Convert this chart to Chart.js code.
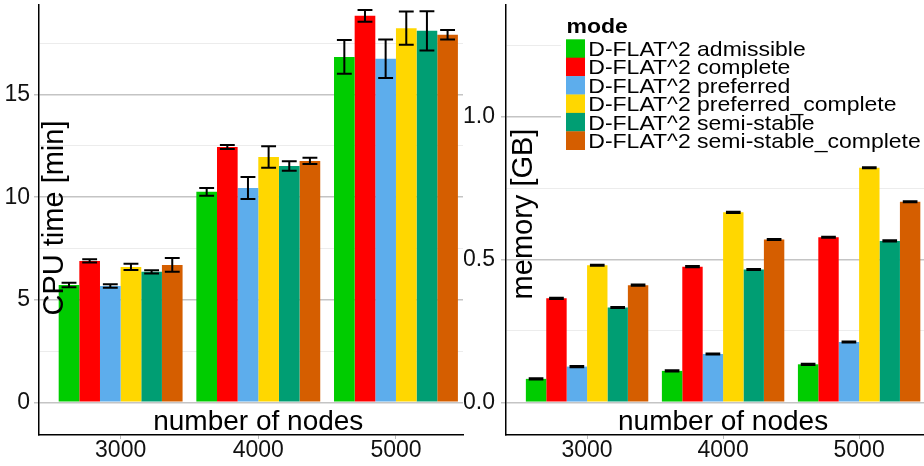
<!DOCTYPE html>
<html>
<head>
<meta charset="utf-8">
<script src="https://cdn.jsdelivr.net/npm/chart.js@4"></script>
<style>
  html, body { margin: 0; padding: 0; background: #fff; }
  #wrap { position: relative; width: 924px; height: 466px; overflow: hidden; }
  #cpuChart { position: absolute; left: 0; top: 0; }
  #memChart { position: absolute; left: 464px; top: 0; }
</style>
</head>
<body>
<div id="wrap">
  <canvas id="cpuChart" width="464" height="466"></canvas>
  <canvas id="memChart" width="460" height="466"></canvas>
</div>
<script>
const nodes = [3000, 4000, 5000];
const modes = [
  'D-FLAT^2 admissible',
  'D-FLAT^2 complete',
  'D-FLAT^2 preferred',
  'D-FLAT^2 preferred_complete',
  'D-FLAT^2 semi-stable',
  'D-FLAT^2 semi-stable_complete'
];
const modeColors = ['#00CC00', '#FF0000', '#5DADEC', '#FFD700', '#009E73', '#D55E00'];

// CPU time [min]
const cpuAdmissible = [5.72, 10.26, 16.84];
const cpuComplete = [6.89, 12.45, 18.84];
const cpuPreferred = [5.67, 10.45, 16.75];
const cpuPreferredComplete = [6.6, 11.96, 18.24];
const cpuSemiStable = [6.36, 11.52, 18.11];
const cpuSemiStableComplete = [6.7, 11.77, 17.92];
// error (+/-)
const cpuErrAdmissible = [0.11, 0.19, 0.82];
const cpuErrComplete = [0.08, 0.1, 0.29];
const cpuErrPreferred = [0.08, 0.54, 0.94];
const cpuErrPreferredComplete = [0.15, 0.52, 0.81];
const cpuErrSemiStable = [0.08, 0.23, 0.96];
const cpuErrSemiStableComplete = [0.33, 0.15, 0.23];

// memory [GB]
const memAdmissible = [0.082, 0.11, 0.133];
const memComplete = [0.364, 0.475, 0.578];
const memPreferred = [0.125, 0.169, 0.211];
const memPreferredComplete = [0.48, 0.665, 0.821];
const memSemiStable = [0.332, 0.465, 0.565];
const memSemiStableComplete = [0.41, 0.57, 0.702];
const memErr = [0.002, 0.002, 0.002];

const cpuSeries = [cpuAdmissible, cpuComplete, cpuPreferred, cpuPreferredComplete, cpuSemiStable, cpuSemiStableComplete];
const cpuErrors = [cpuErrAdmissible, cpuErrComplete, cpuErrPreferred, cpuErrPreferredComplete, cpuErrSemiStable, cpuErrSemiStableComplete];
const memSeries = [memAdmissible, memComplete, memPreferred, memPreferredComplete, memSemiStable, memSemiStableComplete];
const memErrors = [memErr, memErr, memErr, memErr, memErr, memErr];

const FONT = "'Liberation Sans', Arial, sans-serif";
const MAJOR_GRID = '#c4c4c4';
const MINOR_GRID = '#ececec';

function errorBarPlugin(errors) {
  return {
    id: 'errorBars',
    afterDatasetsDraw(chart) {
      const ctx = chart.ctx;
      const y = chart.scales.y;
      ctx.save();
      ctx.strokeStyle = '#000';
      ctx.lineWidth = 2;
      chart.data.datasets.forEach((ds, i) => {
        chart.getDatasetMeta(i).data.forEach((bar, j) => {
          const v = ds.data[j].y, e = errors[i][j];
          const top = y.getPixelForValue(v + e);
          const bot = y.getPixelForValue(v - e);
          const hw = bar.width * 0.36;
          ctx.beginPath();
          ctx.moveTo(bar.x - hw, top); ctx.lineTo(bar.x + hw, top);
          ctx.moveTo(bar.x, top); ctx.lineTo(bar.x, bot);
          ctx.moveTo(bar.x - hw, bot); ctx.lineTo(bar.x + hw, bot);
          ctx.stroke();
        });
      });
      ctx.restore();
    }
  };
}

function titlePlugin(yTitle, yTitleX, yTitleY, withLegend) {
  return {
    id: 'titles',
    afterDraw(chart) {
      const ctx = chart.ctx;
      const x = chart.scales.x;
      ctx.save();
      ctx.fillStyle = '#000';
      ctx.font = '28px ' + FONT;
      ctx.textAlign = 'center';
      ctx.textBaseline = 'alphabetic';
      ctx.fillText('number of nodes', x.getPixelForValue(4000), 430);

      ctx.save();
      ctx.translate(yTitleX, yTitleY);
      ctx.rotate(-Math.PI / 2);
      ctx.font = '29px ' + FONT;
      ctx.fillText(yTitle, 0, 0);
      ctx.restore();

      if (withLegend) {
        ctx.fillStyle = '#fff';
        ctx.fillRect(97, 8, 363, 146);
        ctx.textAlign = 'left';
        ctx.fillStyle = '#000';
        ctx.save();
        ctx.translate(102.5, 33);
        ctx.scale(1.15, 1);
        ctx.font = 'bold 20px ' + FONT;
        ctx.fillText('mode', 0, 0);
        ctx.restore();
        const rowH = 18.4;
        modes.forEach((m, i) => {
          const top = 39.3 + i * rowH;
          ctx.fillStyle = modeColors[i];
          ctx.fillRect(102, top, 19, rowH + 0.3);
          ctx.fillStyle = '#000';
          ctx.save();
          ctx.translate(124.3, top + 16.7);
          ctx.scale(1.15, 1.04);
          ctx.font = '20px ' + FONT;
          ctx.fillText(m, 0, 0);
          ctx.restore();
        });
      }
      ctx.restore();
    }
  };
}

function makeChart(id, series, errors, o) {
  const datasets = series.map((vals, i) => ({
    label: modes[i],
    data: nodes.map((n, j) => ({ x: n, y: vals[j] })),
    backgroundColor: modeColors[i],
    borderWidth: 0,
    categoryPercentage: 0.9,
    barPercentage: 1.0
  }));
  const isMajor = v => Math.abs(v / o.major - Math.round(v / o.major)) < 1e-6;
  return new Chart(document.getElementById(id), {
    type: 'bar',
    data: { datasets },
    options: {
      responsive: false,
      animation: false,
      devicePixelRatio: 1,
      layout: { padding: { top: 5, right: o.padRight, left: 0, bottom: 0 } },
      plugins: { legend: { display: false }, tooltip: { enabled: false } },
      scales: {
        x: {
          type: 'linear',
          min: o.xMin,
          max: o.xMax,
          offset: false,
          afterBuildTicks: s => { s.ticks = nodes.map(n => ({ value: n })); },
          afterFit: s => { s.height = 31; s.paddingLeft = 0; s.paddingRight = 0; },
          grid: { drawOnChartArea: false, drawTicks: true, tickLength: 4, tickColor: '#bbbbbb', offset: false },
          border: { display: true, color: '#000', width: 1.5 },
          ticks: {
            color: '#111', font: { family: FONT, size: 23, lineHeight: 1 }, padding: 0, maxRotation: 0,
            callback: v => String(v)
          }
        },
        y: {
          min: o.yMin,
          max: o.yMax,
          afterFit: s => { s.width = o.axisWidth; s.paddingTop = 0; s.paddingBottom = 0; },
          grid: {
            color: c => isMajor(c.tick.value) ? MAJOR_GRID : MINOR_GRID,
            lineWidth: c => isMajor(c.tick.value) ? 1.5 : 1,
            tickColor: c => isMajor(c.tick.value) ? MAJOR_GRID : 'rgba(0,0,0,0)',
            tickLength: 5
          },
          border: { display: true, color: '#000', width: 1.5 },
          ticks: {
            stepSize: o.step,
            includeBounds: false,
            color: '#111',
            padding: o.tickPad,
            font: { family: FONT, size: 23 },
            callback: v => isMajor(v) ? o.fmt(v) : ''
          }
        }
      }
    },
    plugins: [errorBarPlugin(errors), titlePlugin(o.yTitle, o.yTitleX, o.yTitleY, o.legend)]
  });
}

makeChart('cpuChart', cpuSeries, cpuErrors, {
  xMin: 2407, xMax: 5487, yMin: -1.594, yMax: 19.37,
  step: 2.5, major: 5, fmt: v => String(Math.round(v)),
  axisWidth: 39, padRight: 1, tickPad: 4,
  yTitle: 'CPU time [min]', yTitleX: 63, yTitleY: 218, legend: false
});

makeChart('memChart', memSeries, memErrors, {
  xMin: 2404, xMax: 5477, yMin: -0.1145, yMax: 1.391,
  step: 0.25, major: 0.5, fmt: v => v.toFixed(1),
  axisWidth: 42, padRight: 0, tickPad: 6,
  yTitle: 'memory [GB]', yTitleX: 68, yTitleY: 214, legend: true
});
</script>
</body>
</html>
